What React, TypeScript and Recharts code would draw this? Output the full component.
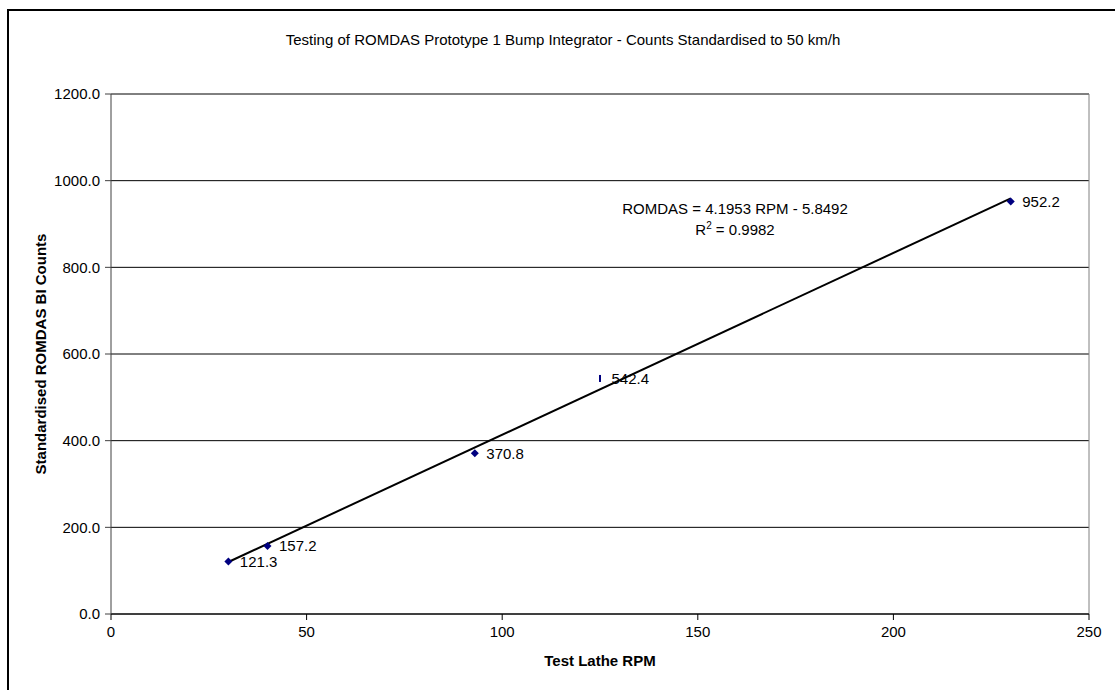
import {
  ScatterChart,
  Scatter,
  XAxis,
  YAxis,
  CartesianGrid,
  LabelList,
  ReferenceLine,
} from "recharts";

// readings
const lathRpm = [30, 40, 93, 125, 230];
const biCounts = [121.3, 157.2, 370.8, 542.4, 952.2];

// fitted line end points (ROMDAS = 4.1953 RPM - 5.8492)
const trendRpm = [30, 230];
const trendCounts = [120.0, 959.1];

const xTicks = [0, 50, 100, 150, 200, 250];
const yTicks = [0, 200, 400, 600, 800, 1000, 1200];

const points = lathRpm.map((r, i) => ({ rpm: r, counts: biCounts[i] }));
const trend = trendRpm.map((r, i) => ({ rpm: r, counts: trendCounts[i] }));

const FONT = "'Liberation Sans', Arial, sans-serif";
const NAVY = "#000080";

function Marker(props: any) {
  const { cx, cy, index } = props;
  if (cx == null || cy == null) return <g />;
  // Excel rendered this one as a thin vertical tick instead of a diamond
  if (index === 3) {
    return <rect x={cx - 1} y={cy - 4} width={2} height={7} fill={NAVY} />;
  }
  return (
    <polygon
      points={`${cx},${cy - 4} ${cx + 4},${cy} ${cx},${cy + 4} ${cx - 4},${cy}`}
      fill={NAVY}
    />
  );
}

function YTitle(props: any) {
  const vb = props.viewBox;
  const y = vb.y + vb.height / 2;
  return (
    <text
      x={40}
      y={y}
      transform={`rotate(-90 40 ${y})`}
      textAnchor="middle"
      dominantBaseline="central"
      fontFamily={FONT}
      fontSize={15}
      fontWeight="bold"
      fill="#000"
    >
      Standardised ROMDAS BI Counts
    </text>
  );
}

function XTitle(props: any) {
  const vb = props.viewBox;
  return (
    <text
      x={vb.x + vb.width / 2}
      y={660}
      textAnchor="middle"
      dominantBaseline="central"
      fontFamily={FONT}
      fontSize={15}
      fontWeight="bold"
      fill="#000"
    >
      Test Lathe RPM
    </text>
  );
}

const tickStyle = { fill: "#000", fontSize: 15, fontFamily: FONT };

export default function App() {
  return (
    <div
      style={{
        position: "fixed",
        left: 0,
        top: 0,
        width: 1115,
        height: 690,
        overflow: "hidden",
        background: "#fff",
        fontFamily: FONT,
      }}
    >
      <div
        style={{
          position: "absolute",
          left: 7,
          top: 9,
          width: 1120,
          height: 700,
          border: "2px solid #000",
        }}
      />
      <div
        style={{
          position: "absolute",
          left: 263,
          width: 600,
          top: 31,
          textAlign: "center",
          fontSize: 15,
          lineHeight: "18px",
          color: "#000",
          whiteSpace: "nowrap",
        }}
      >
        Testing of ROMDAS Prototype 1 Bump Integrator - Counts Standardised to
        50 km/h
      </div>
      <ScatterChart
        width={1115}
        height={690}
        margin={{ top: 94, right: 26, bottom: 26, left: 0 }}
        style={{ position: "absolute", left: 0, top: 0 }}
      >
        <CartesianGrid
          horizontal
          vertical={false}
          stroke="#000"
          strokeOpacity={1}
        />
        <XAxis
          type="number"
          dataKey="rpm"
          domain={[0, 250]}
          ticks={xTicks}
          interval={0}
          height={50}
          tickSize={6}
          tickMargin={6}
          tick={tickStyle}
          axisLine={{ stroke: "#000" }}
          tickLine={{ stroke: "#000" }}
          label={(p: any) => <XTitle {...p} />}
        />
        <YAxis
          type="number"
          dataKey="counts"
          domain={[0, 1200]}
          ticks={yTicks}
          interval={0}
          width={111}
          tickSize={6}
          tickMargin={5}
          tick={tickStyle}
          tickFormatter={(v: number) => v.toFixed(1)}
          axisLine={{ stroke: "#404040" }}
          tickLine={{ stroke: "#404040" }}
          label={(p: any) => <YTitle {...p} />}
        />
        <ReferenceLine x={250} stroke="#808080" />
        <Scatter
          data={trend}
          line={{ stroke: "#000", strokeWidth: 2 }}
          shape={() => <g />}
          isAnimationActive={false}
        />
        <Scatter
          data={points}
          shape={(p: any) => <Marker {...p} />}
          isAnimationActive={false}
        >
          <LabelList
            dataKey="counts"
            position="right"
            offset={7}
            formatter={(v: any) => Number(v).toFixed(1)}
            style={{ fill: "#000", fontSize: 15, fontFamily: FONT }}
          />
        </Scatter>
      </ScatterChart>
      <div
        style={{
          position: "absolute",
          left: 585,
          width: 300,
          top: 198,
          textAlign: "center",
          fontSize: 15,
          lineHeight: "21px",
          color: "#000",
          whiteSpace: "nowrap",
        }}
      >
        <div>ROMDAS = 4.1953 RPM - 5.8492</div>
        <div>
          R<sup style={{ fontSize: 10, lineHeight: 0 }}>2</sup> = 0.9982
        </div>
      </div>
    </div>
  );
}
